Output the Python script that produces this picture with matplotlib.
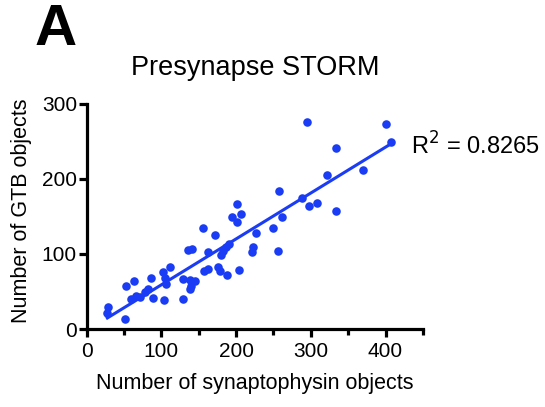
import numpy as np
import matplotlib
matplotlib.use("Agg")
import matplotlib.pyplot as plt
from matplotlib.ticker import MultipleLocator

plt.rcParams["font.family"] = ["Liberation Sans", "DejaVu Sans"]

# synaptophysin objects (x) vs GTB objects (y)
syn = [28.8, 27.7, 51.7, 53.1, 63.1, 60.0, 66.7, 71.1, 77.7, 82.1,
       86.7, 88.8, 102.1, 104.4, 106.7, 111.1, 103.5, 128.8, 128.8, 137.7,
       144.4, 140.0, 137.7, 135.5, 141.1, 155.5, 171.1, 162.1, 157.7, 162.1,
       175.5, 178.4, 188.4, 191.1, 186.7, 182.1, 180.0, 200.8, 194.4, 206.4,
       200.8, 203.5, 222.1, 221.3, 226.4, 248.8, 255.5, 256.8, 261.3, 288.8,
       298.1, 307.7, 321.1, 333.3, 334.1, 369.7, 295.5, 401.1, 406.7]
gtb = [28.9, 22.0, 14.0, 57.3, 64.4, 40.0, 44.4, 42.3, 48.9, 53.3,
       68.0, 41.3, 75.6, 68.0, 60.0, 82.0, 39.1, 40.0, 66.7, 65.3,
       64.4, 57.7, 53.3, 105.3, 106.7, 134.0, 125.3, 102.0, 77.7, 80.0,
       82.0, 77.3, 71.6, 113.3, 108.9, 104.0, 99.3, 166.7, 148.9, 153.3,
       142.3, 79.3, 108.9, 102.7, 128.0, 134.3, 104.0, 184.4, 148.9, 174.3,
       163.6, 168.3, 205.3, 157.7, 240.9, 212.4, 275.6, 273.3, 248.9]

r2_text = "R$^2$ = 0.8265"
blue = "#1a3cf5"

x = np.array(syn)
y = np.array(gtb)
slope, icpt = np.polyfit(x, y, 1)
xf = np.array([x.min(), x.max()])

fig = plt.figure(figsize=(5.45, 4.07), dpi=100)
ax = fig.add_axes([0.159, 0.1916, 0.617, 0.553])

ax.scatter(x, y, s=38, color=blue, linewidths=0, zorder=3, clip_on=False)
ax.plot(xf, slope * xf + icpt, color=blue, lw=2.2, zorder=2)

ax.set_xlim(0, 450)
ax.set_ylim(0, 300)
ax.xaxis.set_major_locator(MultipleLocator(100))
ax.xaxis.set_minor_locator(MultipleLocator(50))
ax.yaxis.set_major_locator(MultipleLocator(100))
ax.set_xticks([0, 100, 200, 300, 400])

for s in ["top", "right"]:
    ax.spines[s].set_visible(False)
for s in ["left", "bottom"]:
    ax.spines[s].set_linewidth(2.3)
ax.spines["left"].set_bounds(0, 300)

ax.tick_params(axis="both", which="major", width=2.3, length=6, labelsize=15,
               colors="black")
ax.tick_params(axis="x", which="major", pad=3.5)
ax.tick_params(axis="y", which="major", pad=1)
ax.tick_params(axis="x", which="minor", width=2.3, length=4)

ax.set_xlabel("Number of synaptophysin objects", fontsize=15.5)
ax.xaxis.set_label_coords(0.5, -0.244)
ax.xaxis.label.set_va("center")
ax.set_ylabel("Number of GTB objects", fontsize=15.5)
ax.yaxis.set_label_coords(-0.195, 0.524)
ax.yaxis.label.set_va("center")

fig.text(255 / 545, 1 - 68 / 407, "Presynapse STORM", fontsize=19.5,
         ha="center", va="center")
fig.text(411 / 545, 1 - 146 / 407, r2_text, fontsize=17, va="center", ha="left")
fig.text(35 / 545, 1 - 30 / 407, "A", fontsize=42, fontweight="bold",
         va="center", ha="left")

fig.savefig("out.png", dpi=100)
